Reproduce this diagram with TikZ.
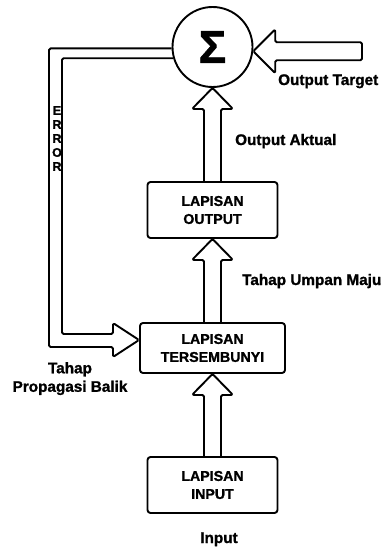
\documentclass[tikz,border=0pt]{standalone}
\usepackage{fontspec}
\setmainfont{Liberation Sans}[BoldFeatures={FakeBold=1.3}]
\usetikzlibrary{calc}
\tikzset{
  blk/.style={draw=black, line width=1.9pt, line join=round, rounded corners=1.5pt},
  layerbox/.style={draw=black, line width=1.9pt, rounded corners=3pt, align=center,
    font=\bfseries\fontsize{14.2}{18}\selectfont, inner sep=0pt},
  lbl/.style={font=\bfseries\fontsize{15.3}{19}\selectfont, inner sep=0pt},
}
\newcommand\upblock[2]{%
  \draw[blk] let \p1=(#1), \p2=(#2) in
   (\x2-8.5pt,\y1) -- (\x2-8.5pt,\y2-21pt) -- (\x2-20.5pt,\y2-21pt) -- (\x2,\y2)
   -- (\x2+20.5pt,\y2-21pt) -- (\x2+8.5pt,\y2-21pt) -- (\x2+8.5pt,\y1);}
\begin{document}
\begin{tikzpicture}[x=1pt,y=-1pt]
\useasboundingbox (0,0) rectangle (389,551);
% nodes
\node[circle, draw=black, line width=1.9pt, minimum size=80pt, inner sep=0pt,
  font=\bfseries\fontsize{46}{46}\selectfont] (sig) at (212.5,47) {Σ};
\node[layerbox, minimum width=130pt, minimum height=56pt] (outl) at (212.5,210) {LAPISAN\\OUTPUT};
\node[layerbox, minimum width=145pt, minimum height=50pt] (hid) at (212.5,348) {LAPISAN\\TERSEMBUNYI};
\node[layerbox, minimum width=130pt, minimum height=56pt] (inl) at (212.5,485) {LAPISAN\\INPUT};
% labels
\node[lbl, anchor=base west] (ltarget) at (278,85) {Output Target};
\node[lbl, anchor=base west] (laktual) at (235,145) {Output Aktual};
\node[lbl, anchor=base west] (lmaju) at (242,285) {Tahap Umpan Maju};
\node[lbl, anchor=north, align=center] (lbalik) at (70,362) {Tahap\\[-0.5pt]Propagasi Balik};
\node[lbl, anchor=base] (linput) at (219,543) {Input};
\node[font=\bfseries\fontsize{12.5}{14}\selectfont, inner sep=0pt, anchor=north, align=center]
  (lerr) at (57,106) {E\\R\\R\\O\\R};
% forward block arrows
\upblock{inl.north}{hid.south}
\upblock{hid.north}{outl.south}
\upblock{outl.north}{sig.south}
% target arrow
\coordinate (tgt) at (362,51);
\draw[blk] let \p1=(sig.-6), \p2=(tgt) in
  (\p1) -- (\x1+22pt,\y1+22pt) -- (\x1+22pt,\y1+9pt) -- (\x2,\y1+9pt)
  -- (\x2,\y1-9pt) -- (\x1+22pt,\y1-9pt) -- (\x1+22pt,\y1-22pt) -- cycle;
% error feedback arrow
\coordinate (tipE) at ($(hid.west)+(0,-8)$);
\draw[blk] (sig.182) -| (49,347) -- (113,347) -- (113,357) -- (tipE)
  -- (113,323) -- (113,334) -- (62,334) |- (sig.196);
\end{tikzpicture}
\end{document}
